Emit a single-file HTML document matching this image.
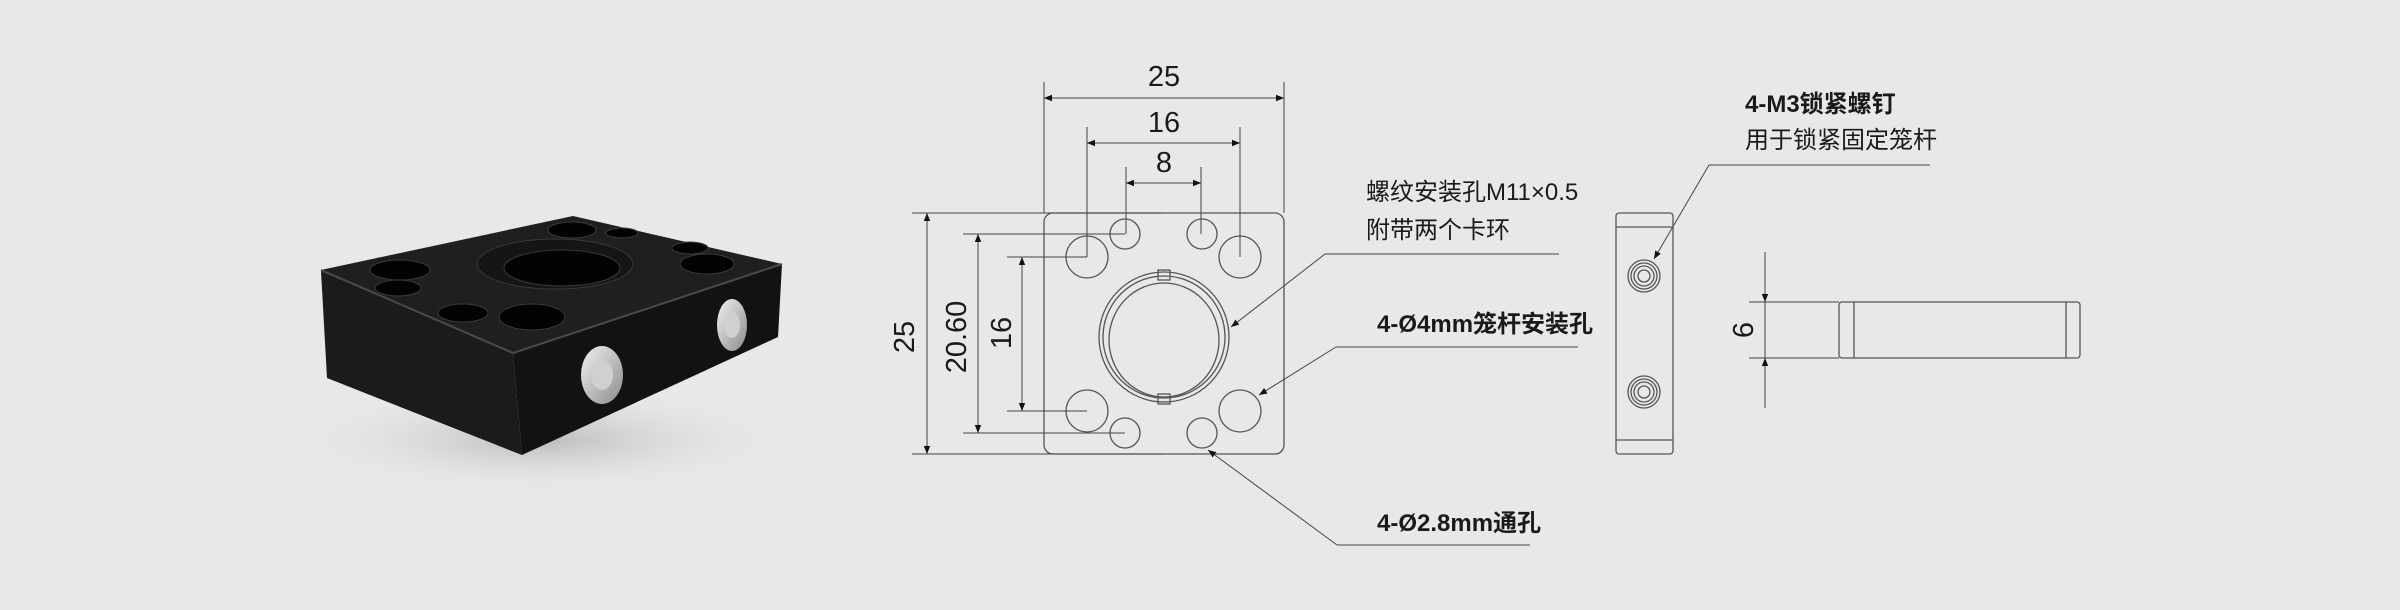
<!DOCTYPE html>
<html><head><meta charset="utf-8"><style>
html,body{margin:0;padding:0;background:#e8e8e8;}
svg{display:block}
text{font-family:"Liberation Sans","Noto Sans CJK SC",sans-serif;fill:#1a1a1a}
</style></head><body>
<svg width="2400" height="610" viewBox="0 0 2400 610" xmlns="http://www.w3.org/2000/svg">
<defs>
<marker id="a" viewBox="0 0 10 10" refX="10" refY="5" markerWidth="18" markerHeight="8" markerUnits="userSpaceOnUse" orient="auto"><path d="M0,1 L10,5 L0,9 z" fill="#111"/></marker>
<radialGradient id="sh" cx="0.5" cy="0.5" r="0.5"><stop offset="0" stop-color="#bbb"/><stop offset="1" stop-color="#e8e8e8" stop-opacity="0"/></radialGradient>
<linearGradient id="sc" x1="0" y1="0" x2="1" y2="1"><stop offset="0" stop-color="#f2f2f2"/><stop offset="1" stop-color="#8a8a8a"/></linearGradient>
</defs>
<rect width="2400" height="610" fill="#e8e8e8"/>

<!-- photo -->
<ellipse cx="540" cy="440" rx="260" ry="55" fill="url(#sh)"/>
<polygon points="321,271 513,353 522,455 327,378" fill="#1b1b1b"/>
<polygon points="513,353 782,264 778,337 522,455" fill="#121212"/>
<polygon points="321,270 573,216 782,264 513,353" fill="#1f1f1f"/>
<polyline points="321,270 513,353 782,264" fill="none" stroke="#4a4a4a" stroke-width="2"/>
<g fill="#030303" stroke="#3a3a3a" stroke-width="1">
<ellipse cx="400" cy="270" rx="30" ry="10"/>
<ellipse cx="398" cy="288" rx="23" ry="8"/>
<ellipse cx="463" cy="313" rx="25" ry="9"/>
<ellipse cx="532" cy="317" rx="33" ry="13"/>
<ellipse cx="572" cy="230" rx="24" ry="8"/>
<ellipse cx="622" cy="233" rx="16" ry="5"/>
<ellipse cx="690" cy="248" rx="18" ry="6"/>
<ellipse cx="707" cy="264" rx="27" ry="10"/>
<ellipse cx="555" cy="264" rx="78" ry="25" fill="#151515"/>
<ellipse cx="562" cy="268" rx="58" ry="18"/>
</g>
<ellipse cx="602" cy="375" rx="21" ry="29" fill="url(#sc)"/><ellipse cx="602" cy="375" rx="11" ry="15" fill="#d0d0d0"/>
<ellipse cx="732" cy="325" rx="15" ry="26" fill="url(#sc)"/><ellipse cx="732" cy="325" rx="8" ry="13" fill="#d0d0d0"/>

<!-- front view -->
<g fill="none" stroke="#555" stroke-width="1.3">
<rect x="1044" y="213" width="240" height="241" rx="9"/>
<circle cx="1087" cy="257" r="21"/><circle cx="1240" cy="257" r="21"/>
<circle cx="1087" cy="411" r="21"/><circle cx="1240" cy="411" r="21"/>
<ellipse cx="1125" cy="234" rx="15" ry="15"/><ellipse cx="1202" cy="234" rx="15" ry="15"/>
<ellipse cx="1125" cy="433" rx="15" ry="15"/><ellipse cx="1202" cy="433" rx="15" ry="15"/>
<ellipse cx="1164" cy="337" rx="65" ry="65"/><ellipse cx="1164" cy="337" rx="61" ry="61"/>
<ellipse cx="1164" cy="340" rx="55" ry="57"/>
<rect x="1158" y="270" width="12" height="10"/><rect x="1158" y="394" width="12" height="10"/>
</g>
<g stroke="#444" stroke-width="1" fill="none">
<line x1="1044" y1="82" x2="1044" y2="213"/><line x1="1284" y1="82" x2="1284" y2="213"/>
<line x1="1087" y1="127" x2="1087" y2="257"/><line x1="1240" y1="127" x2="1240" y2="257"/>
<line x1="1126" y1="167" x2="1126" y2="234"/><line x1="1201" y1="167" x2="1201" y2="234"/>
<line x1="912" y1="213" x2="1164" y2="213"/><line x1="912" y1="454" x2="1164" y2="454"/>
<line x1="963" y1="234" x2="1125" y2="234"/><line x1="963" y1="433" x2="1125" y2="433"/>
<line x1="1007" y1="257" x2="1087" y2="257"/><line x1="1007" y1="411" x2="1087" y2="411"/>
<line x1="1066" y1="98" x2="1044" y2="98" marker-end="url(#a)"/><line x1="1262" y1="98" x2="1284" y2="98" marker-end="url(#a)"/>
<line x1="1066" y1="98" x2="1262" y2="98"/>
<line x1="1109" y1="143" x2="1087" y2="143" marker-end="url(#a)"/><line x1="1218" y1="143" x2="1240" y2="143" marker-end="url(#a)"/>
<line x1="1109" y1="143" x2="1218" y2="143"/>
<line x1="1148" y1="183" x2="1126" y2="183" marker-end="url(#a)"/><line x1="1179" y1="183" x2="1201" y2="183" marker-end="url(#a)"/>
<line x1="1148" y1="183" x2="1179" y2="183"/>
<line x1="927" y1="235" x2="927" y2="213" marker-end="url(#a)"/><line x1="927" y1="432" x2="927" y2="454" marker-end="url(#a)"/>
<line x1="927" y1="235" x2="927" y2="432"/>
<line x1="978" y1="256" x2="978" y2="234" marker-end="url(#a)"/><line x1="978" y1="411" x2="978" y2="433" marker-end="url(#a)"/>
<line x1="978" y1="256" x2="978" y2="411"/>
<line x1="1022" y1="279" x2="1022" y2="257" marker-end="url(#a)"/><line x1="1022" y1="389" x2="1022" y2="411" marker-end="url(#a)"/>
<line x1="1022" y1="279" x2="1022" y2="389"/>
<polyline points="1559,254 1325,254"/><line x1="1325" y1="254" x2="1231" y2="327" marker-end="url(#a)"/>
<polyline points="1578,347 1336,347"/><line x1="1336" y1="347" x2="1259" y2="395" marker-end="url(#a)"/>
<polyline points="1530,545 1337,545"/><line x1="1337" y1="545" x2="1208" y2="450" marker-end="url(#a)"/>
<polyline points="1930,165 1709,165"/><line x1="1709" y1="165" x2="1654" y2="259" marker-end="url(#a)"/>
<line x1="1765" y1="252" x2="1765" y2="302" marker-end="url(#a)"/><line x1="1765" y1="408" x2="1765" y2="358" marker-end="url(#a)"/>
<line x1="1765" y1="302" x2="1765" y2="358"/>
<line x1="1749" y1="302" x2="1839" y2="302"/><line x1="1749" y1="358" x2="1839" y2="358"/>
</g>
<g font-size="29" text-anchor="middle">
<text x="1164" y="86">25</text><text x="1164" y="132">16</text><text x="1164" y="172">8</text>
<text transform="translate(914,337) rotate(-90)">25</text>
<text transform="translate(966,337) rotate(-90)">20.60</text>
<text transform="translate(1011,333) rotate(-90)">16</text>
<text transform="translate(1753,330) rotate(-90)">6</text>
</g>
<g font-size="24">
<text x="1366" y="200" font-family="'Liberation Serif','Noto Serif CJK SC',serif">螺纹安装孔M11×0.5</text>
<text x="1366" y="238" font-family="'Liberation Serif','Noto Serif CJK SC',serif">附带两个卡环</text>
<text x="1377" y="332" font-weight="bold">4-Ø4mm笼杆安装孔</text>
<text x="1377" y="531" font-weight="bold">4-Ø2.8mm通孔</text>
<text x="1745" y="112" font-weight="bold">4-M3锁紧螺钉</text>
<text x="1745" y="148">用于锁紧固定笼杆</text>
</g>

<!-- side view -->
<g fill="none" stroke="#555" stroke-width="1.3">
<rect x="1616" y="213" width="57" height="241" rx="3"/>
<line x1="1616" y1="227" x2="1673" y2="227"/><line x1="1616" y1="440" x2="1673" y2="440"/>
<circle cx="1644" cy="276" r="16"/><circle cx="1644" cy="276" r="13"/><circle cx="1644" cy="276" r="10"/><circle cx="1644" cy="276" r="6"/>
<circle cx="1644" cy="392" r="16"/><circle cx="1644" cy="392" r="13"/><circle cx="1644" cy="392" r="10"/><circle cx="1644" cy="392" r="6"/>
<rect x="1839" y="302" width="241" height="56" rx="3"/>
<line x1="1854" y1="302" x2="1854" y2="358"/><line x1="2066" y1="302" x2="2066" y2="358"/>
</g>
</svg>
</body></html>
